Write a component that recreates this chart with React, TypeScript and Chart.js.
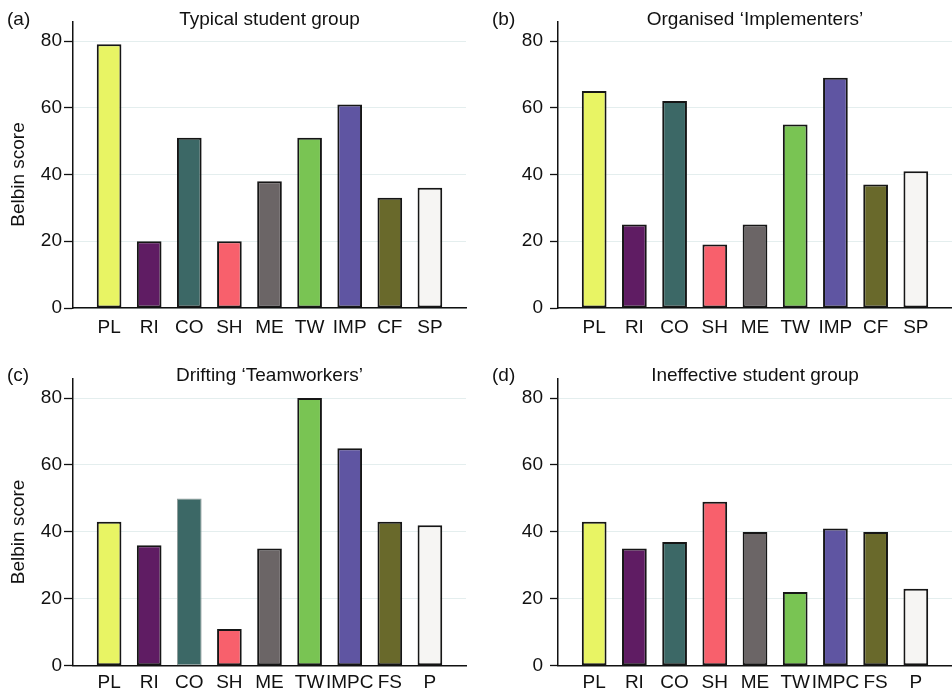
import React, { useEffect, useRef } from 'react';
import { Chart, registerables } from 'chart.js';

Chart.register(...registerables);

// ---- data ----
const rolesTop = ['PL', 'RI', 'CO', 'SH', 'ME', 'TW', 'IMP', 'CF', 'SP'];
const rolesBottom = ['PL', 'RI', 'CO', 'SH', 'ME', 'TW', 'IMPC', 'FS', 'P'];
const typicalScores = [79, 20, 51, 20, 38, 51, 61, 33, 36];
const organisedScores = [65, 25, 62, 19, 25, 55, 69, 37, 41];
const driftingScores = [43, 36, 50, 11, 35, 80, 65, 43, 42];
const ineffectiveScores = [43, 35, 37, 49, 40, 22, 41, 40, 23];
const yTickValues = [0, 20, 40, 60, 80];
const panelTitles = ['Typical student group', 'Organised \u2018Implementers\u2019', 'Drifting \u2018Teamworkers\u2019', 'Ineffective student group'];
const panelLetters = ['(a)', '(b)', '(c)', '(d)'];
const yAxisTitle = 'Belbin score';

// ---- styles ----
const barColors = ['#e8f464', '#5f1c63', '#3c6866', '#f8606c', '#6b6566', '#79c453', '#5f55a2', '#69692b', '#f6f5f3'];
const FONT = '"Liberation Sans", Arial, Helvetica, sans-serif';

type PanelCfg = {
  labels: string[];
  values: number[];
  title: string;
  letter: string;
  left: number;
  top: number;
  yWidth: number;
  rightPad: number;
  topPad: number;
  xHeight: number;
  xTickPad: number;
  tickLen: number;
  tickPad: number;
  letterX: number;
  titleY: number;
  showYTitle: boolean;
  noBorderIdx?: number;
};

const panels: PanelCfg[] = [
  { labels: rolesTop, values: typicalScores, title: panelTitles[0], letter: panelLetters[0], left: 0, top: 0, yWidth: 73, rightPad: 10, topPad: 22, xHeight: 37, xTickPad: 8, tickLen: 9, tickPad: 2, letterX: 7, titleY: 25, showYTitle: true },
  { labels: rolesTop, values: organisedScores, title: panelTitles[1], letter: panelLetters[1], left: 476, top: 0, yWidth: 82, rightPad: 0, topPad: 22, xHeight: 37, xTickPad: 8, tickLen: 8, tickPad: 7, letterX: 16, titleY: 25, showYTitle: false },
  { labels: rolesBottom, values: driftingScores, title: panelTitles[2], letter: panelLetters[2], left: 0, top: 345, yWidth: 73, rightPad: 10, topPad: 34, xHeight: 24.3, xTickPad: 6, tickLen: 9, tickPad: 2, letterX: 7, titleY: 36, showYTitle: true, noBorderIdx: 2 },
  { labels: rolesBottom, values: ineffectiveScores, title: panelTitles[3], letter: panelLetters[3], left: 476, top: 345, yWidth: 82, rightPad: 0, topPad: 34, xHeight: 24.3, xTickPad: 6, tickLen: 8, tickPad: 7, letterX: 16, titleY: 36, showYTitle: false },
];

function Panel({ cfg }: { cfg: PanelCfg }) {
  const ref = useRef<HTMLCanvasElement | null>(null);

  useEffect(() => {
    if (!ref.current) return;
    const borderColors = barColors.map((_, i) => (i === cfg.noBorderIdx ? '#8f9c9a' : '#161616'));
    const borderWidths = barColors.map((_, i) => (i === cfg.noBorderIdx ? 1 : 2));

    const decorPlugin = {
      id: 'decor',
      afterDraw(chart: any) {
        const { ctx, chartArea } = chart;
        ctx.save();
        ctx.fillStyle = '#111';
        ctx.font = `19px ${FONT}`;
        ctx.textBaseline = 'alphabetic';
        ctx.textAlign = 'center';
        ctx.fillText(cfg.title, (chartArea.left + chartArea.right) / 2, cfg.titleY);
        ctx.textAlign = 'left';
        ctx.fillText(cfg.letter, cfg.letterX, cfg.titleY);
        if (cfg.showYTitle) {
          const yScale = chart.scales.y;
          const midY = yScale.getPixelForValue((yTickValues[0] + yTickValues[yTickValues.length - 1]) / 2);
          ctx.translate(19, midY);
          ctx.rotate(-Math.PI / 2);
          ctx.textAlign = 'center';
          ctx.textBaseline = 'middle';
          ctx.fillText(yAxisTitle, 0, 0);
        }
        ctx.restore();
      },
    };

    const chart = new Chart(ref.current, {
      type: 'bar',
      data: {
        datasets: [
          {
            data: cfg.values.map((v, i) => ({ x: i, y: v })),
            backgroundColor: barColors,
            borderColor: borderColors,
            borderWidth: borderWidths,
            borderSkipped: false,
            barPercentage: 0.615,
            categoryPercentage: 1,
          },
        ],
      },
      options: {
        responsive: false,
        animation: false,
        devicePixelRatio: 1,
        layout: { padding: { left: 0, right: cfg.rightPad, top: cfg.topPad, bottom: 0 } },
        plugins: { legend: { display: false }, tooltip: { enabled: false }, title: { display: false } },
        scales: {
          x: {
            type: 'linear',
            min: -0.9,
            max: cfg.labels.length - 1 + 0.9,
            offset: false,
            grid: { display: false, drawTicks: false },
            border: { display: true, color: '#111', width: 1.5 },
            afterBuildTicks: (scale: any) => {
              scale.ticks = cfg.labels.map((_, i) => ({ value: i }));
            },
            afterFit: (scale: any) => {
              scale.height = cfg.xHeight;
            },
            ticks: {
              autoSkip: false,
              maxRotation: 0,
              minRotation: 0,
              padding: cfg.xTickPad,
              color: '#111',
              font: { family: FONT, size: 19 },
              callback: (v: any) => cfg.labels[v] ?? '',
            },
          },
          y: {
            type: 'linear',
            min: 0,
            max: 85.7,
            afterBuildTicks: (scale: any) => {
              scale.ticks = yTickValues.map((v) => ({ value: v }));
            },
            afterFit: (scale: any) => {
              scale.width = cfg.yWidth;
            },
            grid: {
              color: '#e4eeee',
              lineWidth: 1,
              drawTicks: true,
              tickLength: cfg.tickLen,
              tickColor: '#111',
              tickWidth: 1.3,
            },
            border: { display: true, color: '#111', width: 1.5 },
            ticks: {
              padding: cfg.tickPad,
              color: '#111',
              font: { family: FONT, size: 19 },
            },
          },
        },
      },
      plugins: [decorPlugin],
    } as any);

    return () => chart.destroy();
  }, [cfg]);

  return (
    <canvas
      ref={ref}
      width={476}
      height={345}
      style={{ position: 'absolute', left: cfg.left, top: cfg.top, width: 476, height: 345, display: 'block' }}
    />
  );
}

export default function App() {
  return (
    <div style={{ position: 'absolute', left: 0, top: 0, width: 952, height: 690, overflow: 'hidden', background: '#fff' }}>
      {panels.map((p, i) => (
        <Panel key={i} cfg={p} />
      ))}
    </div>
  );
}
